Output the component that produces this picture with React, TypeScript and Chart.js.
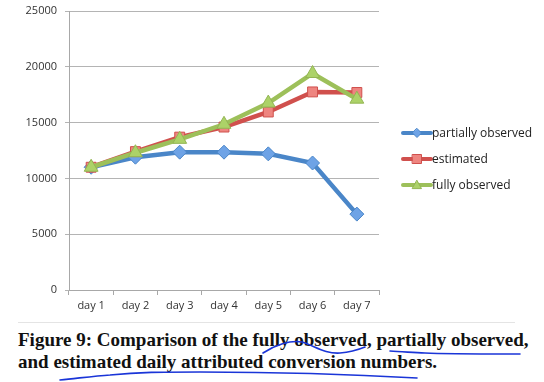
import React, { useEffect, useRef } from "react";
import { Chart, registerables } from "chart.js";

Chart.register(...registerables);

const categories = ["day 1", "day 2", "day 3", "day 4", "day 5", "day 6", "day 7"];
const partiallyObserved = [11000, 11900, 12350, 12350, 12200, 11380, 6800];
const estimated = [11000, 12400, 13700, 14600, 15950, 17750, 17700];
const fullyObserved = [11000, 12300, 13500, 14850, 16750, 19400, 17100];
const seriesNames = ["partially observed", "estimated", "fully observed"];

const FONT = "'Open Sans', sans-serif";

const legendPlugin = {
  id: "sideLegend",
  afterDraw(chart: any) {
    const ctx = chart.ctx;
    const x0 = 403;
    const x1 = 431;
    const ys = [133, 159, 185];
    chart.data.datasets.forEach((ds: any, i: number) => {
      const y = ys[i];
      ctx.save();
      ctx.strokeStyle = ds.borderColor;
      ctx.lineWidth = 4;
      ctx.lineCap = "round";
      ctx.beginPath();
      ctx.moveTo(x0, y);
      ctx.lineTo(x1, y);
      ctx.stroke();
      const cx = (x0 + x1) / 2;
      ctx.fillStyle = ds.pointBackgroundColor;
      ctx.strokeStyle = ds.pointBorderColor;
      ctx.lineWidth = 1;
      ctx.beginPath();
      const r = 4.5;
      if (ds.pointStyle === "rectRot") {
        ctx.moveTo(cx, y - r);
        ctx.lineTo(cx + r, y);
        ctx.lineTo(cx, y + r);
        ctx.lineTo(cx - r, y);
        ctx.closePath();
      } else if (ds.pointStyle === "rect") {
        ctx.rect(cx - r, y - r, 2 * r, 2 * r);
      } else {
        ctx.moveTo(cx, y - r);
        ctx.lineTo(cx + r, y + r * 0.8);
        ctx.lineTo(cx - r, y + r * 0.8);
        ctx.closePath();
      }
      ctx.fill();
      ctx.stroke();
      ctx.fillStyle = "#222";
      ctx.font = "12px " + FONT;
      ctx.textBaseline = "middle";
      ctx.textAlign = "left";
      ctx.fillText(ds.label, x1 + 1, y + 1);
      ctx.restore();
    });
  },
};

export default function App() {
  const ref = useRef<HTMLCanvasElement>(null);
  useEffect(() => {
    if (!ref.current) return;
    const chart = new Chart(ref.current, {
      type: "line",
      data: {
        labels: categories,
        datasets: [
          {
            label: seriesNames[0],
            data: partiallyObserved,
            order: 2,
            borderColor: "#4a86c8",
            borderWidth: 4.5,
            pointStyle: "rectRot",
            pointRadius: 7,
            pointBackgroundColor: "#6ea3e6",
            pointBorderColor: "#4a86c8",
            pointBorderWidth: 1,
            tension: 0,
          },
          {
            label: seriesNames[1],
            data: estimated,
            order: 1,
            borderColor: "#d0504d",
            borderWidth: 4.5,
            pointStyle: "rect",
            pointRadius: 7,
            pointBackgroundColor: "#ee8580",
            pointBorderColor: "#d0504d",
            pointBorderWidth: 1,
            tension: 0,
          },
          {
            label: seriesNames[2],
            data: fullyObserved,
            order: 0,
            borderColor: "#9dc05a",
            borderWidth: 4.5,
            pointStyle: "triangle",
            pointRadius: 8,
            pointBackgroundColor: "#acd268",
            pointBorderColor: "#93b553",
            pointBorderWidth: 1,
            tension: 0,
          },
        ],
      },
      options: {
        animation: false,
        responsive: false,
        devicePixelRatio: 1,
        layout: { padding: { left: 0, top: 11, right: 165, bottom: 0 } },
        plugins: { legend: { display: false }, tooltip: { enabled: false } },
        scales: {
          x: {
            offset: true,
            grid: {
              offset: true,
              drawOnChartArea: false,
              drawTicks: true,
              tickLength: 5,
              color: "#a8a8a8",
            },
            border: { color: "#a8a8a8" },
            ticks: { color: "#333", font: { family: FONT, size: 11 }, padding: 4 },
            afterFit: (s: any) => {
              s.height = 30;
              s.paddingLeft = 0;
              s.paddingRight = 0;
            },
          },
          y: {
            min: 0,
            max: 25000,
            ticks: {
              stepSize: 5000,
              color: "#333",
              font: { family: FONT, size: 11 },
              padding: 8,
              callback: (v: any) => String(v),
            },
            grid: { color: "#b4b4b4", drawTicks: true, tickLength: 4 },
            border: { color: "#a8a8a8" },
            afterFit: (s: any) => {
              s.width = 69;
              s.paddingTop = 0;
              s.paddingBottom = 0;
            },
          },
        },
      },
      plugins: [legendPlugin],
    });
    return () => chart.destroy();
  }, []);

  return (
    <div style={{ position: "absolute", left: 0, top: 0, width: 544, height: 382, background: "#fff" }}>
      <canvas ref={ref} width={544} height={320} style={{ display: "block" }} />
      <div style={{ position: "absolute", left: 18, top: 322, width: 497, height: 1, background: "#e4e4e4" }} />
      <div
        style={{
          position: "absolute",
          left: 18,
          top: 329,
          width: 530,
          fontFamily: "'Liberation Serif', serif",
          fontWeight: "bold",
          fontSize: 19,
          lineHeight: "22px",
          color: "#111",
          whiteSpace: "nowrap",
        }}
      >
        <div>Figure 9: Comparison of the fully observed, partially observed,</div>
        <div>and estimated daily attributed conversion numbers.</div>
      </div>
      <svg
        width={544}
        height={382}
        style={{ position: "absolute", left: 0, top: 0, pointerEvents: "none" }}
      >
        <g fill="none" stroke="#1a35d8" strokeWidth={1.6} strokeLinecap="round">
          <path d="M263 353 C 275 345, 290 340, 302 342 C 315 346, 325 354, 340 353 C 352 352, 360 349, 365 347" />
          <path d="M390 351 C 400 352, 410 352, 425 353 C 445 354, 480 354, 520 354" />
          <path d="M60 380 C 80 378, 95 376, 110 375 C 140 372, 160 372, 200 372 C 260 372, 330 373, 417 378" />
        </g>
      </svg>
    </div>
  );
}
